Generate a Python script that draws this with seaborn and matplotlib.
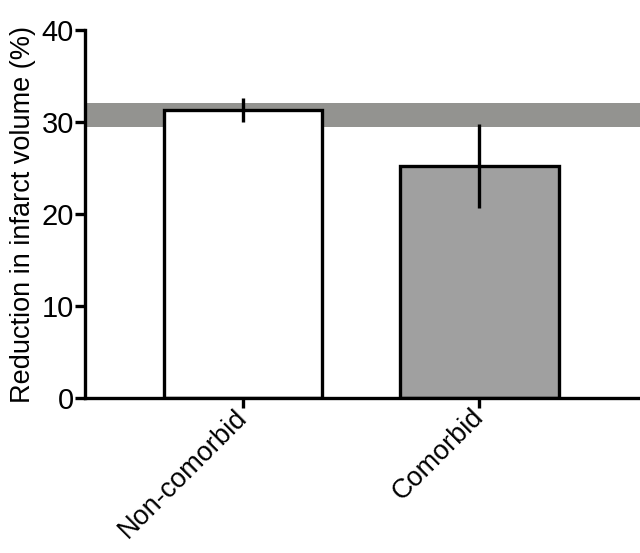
import seaborn as sns
import matplotlib.pyplot as plt
import pandas as pd

# Data
groups = ['Non-comorbid', 'Comorbid']
reduction = [31.3, 25.2]
error = [1.35, 4.6]
bar_colors = ['#ffffff', '#a0a0a0']
band_range = [29.4, 32.1]  # shaded reference band

df = pd.DataFrame({'Group': groups, 'Reduction': reduction})

sns.set_style('ticks')
plt.rcParams['font.family'] = ['Liberation Sans', 'DejaVu Sans']
plt.rcParams['text.color'] = 'black'
plt.rcParams['axes.labelcolor'] = 'black'
plt.rcParams['xtick.color'] = 'black'
plt.rcParams['ytick.color'] = 'black'

fig = plt.figure(figsize=(6.4, 5.53), dpi=100)
ax = fig.add_axes([0.133, 0.28, 0.867, 0.666])

# Reference band behind the bars
ax.axhspan(band_range[0], band_range[1], color='#939390', zorder=0, lw=0)

sns.barplot(data=df, x='Group', y='Reduction', hue='Group', palette=bar_colors,
            errorbar=None, width=0.67, edgecolor='black', linewidth=2.4,
            legend=False, ax=ax, zorder=2)

ax.errorbar(x=range(len(groups)), y=reduction, yerr=error, fmt='none',
            ecolor='black', elinewidth=2.4, capsize=0, zorder=3)

ax.set_ylim(0, 40)
ax.set_xlim(-0.67, 1.68)
ax.set_yticks([0, 10, 20, 30, 40])
ax.set_xlabel('')
ax.set_ylabel('Reduction in infarct volume (%)', fontsize=19.5, labelpad=4)

ax.tick_params(axis='y', labelsize=21, width=2.4, length=7, pad=1)
ax.tick_params(axis='x', labelsize=19.5, width=2.4, length=7, pad=4)
plt.setp(ax.get_xticklabels(), rotation=45, ha='right', va='center',
         rotation_mode='anchor')

sns.despine(ax=ax)
for side in ['left', 'bottom']:
    ax.spines[side].set_linewidth(2.4)
    ax.spines[side].set_color('black')

plt.savefig('out.png', dpi=100)
